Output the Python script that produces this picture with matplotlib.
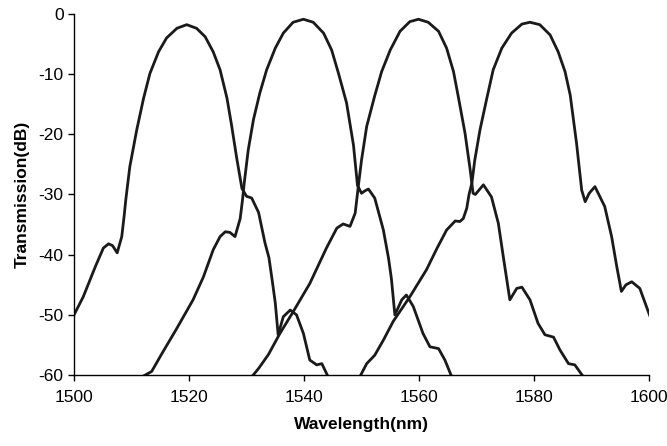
import numpy as np
import matplotlib
matplotlib.use("Agg")
import matplotlib.pyplot as plt

# =========================================================
# DATA
# =========================================================
wl_1 = [1500.0, 1501.6, 1503.7, 1505.1, 1506.0, 1506.7, 1507.5, 1508.3, 1508.7,
        1509.0, 1509.7, 1510.9, 1512.1, 1513.2, 1514.7, 1516.1, 1517.9, 1519.6,
        1521.3, 1522.8, 1524.2, 1525.4, 1526.6, 1527.4, 1528.3, 1529.2, 1530.0,
        1530.9, 1532.1, 1533.2, 1533.9, 1534.5, 1535.0, 1535.5, 1536.4, 1537.6,
        1538.7, 1539.9, 1541.0, 1542.2, 1543.1, 1544.2]
tr_1 = [-50.0, -47.0, -42.0, -38.9, -38.2, -38.5, -39.7, -37.0, -33.7,
        -30.9, -25.4, -19.3, -14.0, -9.9, -6.3, -4.0, -2.4, -1.8,
        -2.4, -3.8, -6.3, -9.3, -14.0, -18.5, -24.0, -29.0, -30.3,
        -30.6, -33.0, -38.0, -40.5, -44.5, -48.0, -53.3, -50.3, -49.2,
        -50.0, -53.1, -57.5, -58.3, -58.1, -60.3]

wl_2 = [1511.8, 1513.5, 1515.3, 1517.9, 1520.7, 1522.5, 1524.2, 1525.4, 1526.3,
        1527.1, 1528.0, 1528.9, 1529.3, 1529.6, 1530.3, 1531.2, 1532.3, 1533.5,
        1535.0, 1536.4, 1538.1, 1539.9, 1541.6, 1543.4, 1544.8, 1546.0, 1547.4,
        1548.6, 1549.3, 1550.0, 1550.6, 1551.2, 1552.3, 1553.8, 1554.7, 1555.2,
        1555.8, 1557.0, 1557.8, 1559.0, 1560.7, 1561.9, 1563.4, 1564.5, 1565.7]
tr_2 = [-60.3, -59.4, -56.4, -52.2, -47.5, -43.7, -39.2, -37.0, -36.2,
        -36.3, -37.0, -34.0, -30.9, -28.1, -22.6, -17.6, -13.2, -9.3,
        -5.7, -3.2, -1.4, -0.9, -1.4, -3.2, -6.0, -9.9, -14.8,
        -21.8, -28.5, -29.8, -29.4, -29.1, -30.6, -35.9, -40.6, -44.0,
        -50.0, -47.5, -46.7, -48.6, -53.1, -55.3, -55.6, -57.5, -60.3]

wl_3 = [1530.9, 1532.1, 1533.8, 1535.8, 1538.1, 1541.0, 1543.9, 1545.7, 1546.8,
        1548.0, 1548.9, 1549.4, 1550.0, 1550.9, 1552.3, 1553.5, 1555.0, 1556.7,
        1558.4, 1559.9, 1561.6, 1563.4, 1564.8, 1566.0, 1566.8, 1568.0, 1568.9,
        1569.4, 1569.8, 1571.2, 1572.6, 1573.8, 1574.7, 1575.8, 1577.0, 1577.9,
        1579.3, 1580.7, 1581.9, 1583.4, 1584.5, 1586.0, 1587.1, 1588.6]
tr_3 = [-60.3, -58.9, -56.6, -53.1, -49.5, -44.8, -38.9, -35.6, -34.9,
        -35.3, -33.1, -29.0, -24.3, -18.7, -13.6, -9.6, -6.0, -2.9,
        -1.3, -0.9, -1.4, -2.9, -5.7, -9.6, -13.6, -19.8, -25.9,
        -29.8, -30.0, -28.4, -30.4, -34.8, -40.6, -47.5, -45.6, -45.4,
        -47.5, -51.4, -53.3, -53.7, -55.8, -58.1, -58.3, -60.3]

wl_4 = [1549.7, 1550.9, 1552.3, 1553.8, 1555.5, 1558.4, 1561.3, 1563.1, 1564.8,
        1566.3, 1567.1, 1567.7, 1568.3, 1568.7, 1569.2, 1569.7, 1570.6, 1571.8,
        1572.9, 1574.4, 1576.1, 1577.9, 1579.3, 1581.0, 1582.8, 1584.2, 1585.4,
        1586.3, 1587.4, 1588.3, 1588.9, 1589.6, 1590.6, 1592.3, 1593.5, 1594.4,
        1595.2, 1596.0, 1597.0, 1598.4, 1600.2]
tr_4 = [-60.3, -58.1, -56.7, -54.2, -51.1, -47.0, -42.5, -39.0, -35.9,
        -34.4, -34.5, -34.0, -32.3, -30.0, -28.1, -24.3, -19.3, -14.0,
        -9.3, -5.7, -3.2, -1.7, -1.4, -1.8, -3.5, -6.3, -9.6,
        -13.5, -21.5, -29.3, -31.2, -29.8, -28.7, -32.0, -37.0, -42.0,
        -46.1, -45.0, -44.5, -45.6, -50.3]

y_ticks = [0, -10, -20, -30, -40, -50, -60]
x_ticks = [1500, 1520, 1540, 1560, 1580, 1600]

# =========================================================
# PLOT
# =========================================================
plt.rcParams["font.family"] = ["Liberation Sans", "DejaVu Sans"]
plt.rcParams["axes.unicode_minus"] = False

fig = plt.figure(figsize=(6.67, 4.46), dpi=100)
ax = fig.add_axes([0.111, 0.159, 0.862, 0.81])

for wl, tr in [(wl_1, tr_1), (wl_2, tr_2), (wl_3, tr_3), (wl_4, tr_4)]:
    ax.plot(wl, tr, color="#1a1a1a", lw=2.0,
            solid_joinstyle="round", solid_capstyle="round")

ax.set_xlim(1500, 1600)
ax.set_ylim(-60, 0)
ax.set_xticks(x_ticks)
ax.set_yticks(y_ticks)
ax.tick_params(direction="out", length=4, width=1, labelsize=12.5, colors="black")
ax.tick_params(axis="x", pad=6.5)

ax.spines["top"].set_visible(False)
ax.spines["right"].set_visible(False)
for side in ("left", "bottom"):
    ax.spines[side].set_linewidth(1.0)

ax.set_xlabel("Wavelength(nm)", fontsize=12.5, fontweight="bold", labelpad=9)
ax.set_ylabel("Transmission(dB)", fontsize=12.5, fontweight="bold", labelpad=6)

fig.savefig("out.png", dpi=100)
plt.close(fig)
